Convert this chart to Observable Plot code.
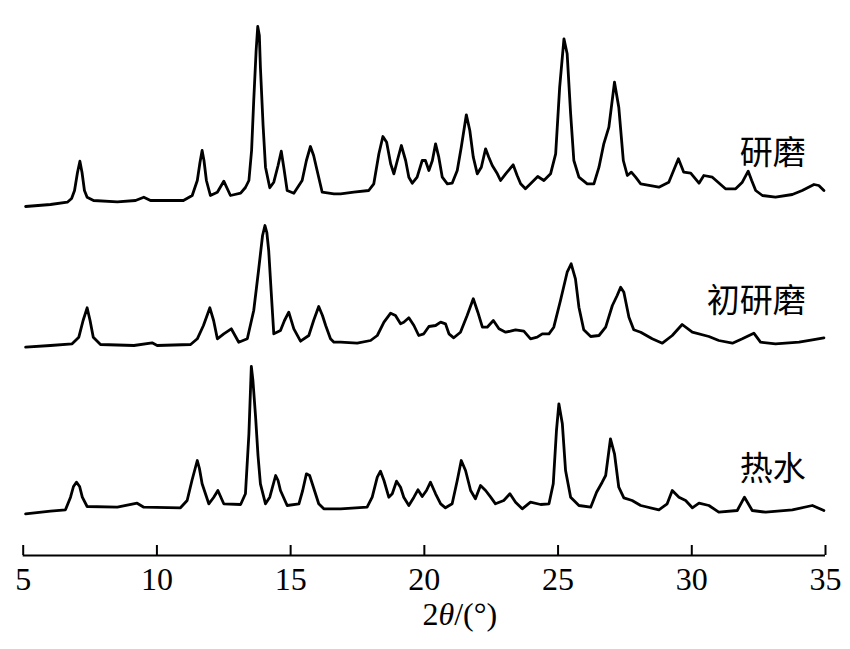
<!DOCTYPE html>
<html><head><meta charset="utf-8">
<script src="https://cdn.jsdelivr.net/npm/d3@7"></script>
<script src="https://cdn.jsdelivr.net/npm/@observablehq/plot@0.6"></script>
<style>body{margin:0;background:#fff;}</style>
</head><body><div id="chart"></div>
<script>
// Sample names (top to bottom)
const sampleNames = ["研磨", "初研磨", "热水"];
const xTicks = [5, 10, 15, 20, 25, 30, 35];
const xLabel = "2θ/(°)";

// Each trace: [2θ (°), displayed intensity (stacked, arbitrary units)]
// 研磨 (top trace)
const grind = [
[5.09,349],[6.02,351],[6.65,353.3],[6.81,357],[6.92,365],[7.03,383],[7.12,394.3],[7.20,383],[7.29,365],[7.39,358.3],[7.63,355],[8.52,353.7],[9.20,355],[9.51,358.3],[9.76,355],[10.99,355],[11.32,360],[11.51,375],[11.61,393],[11.69,405],[11.76,395],[11.85,375],[12.00,360],[12.26,363.3],[12.50,374.3],[12.75,360],[13.13,362.3],[13.31,368],[13.44,375],[13.54,405],[13.62,455],[13.71,505],[13.77,529],[13.83,520],[13.87,488.3],[13.97,430],[14.06,388.3],[14.22,367.7],[14.37,373.3],[14.53,390],[14.65,404.3],[14.75,387],[14.87,365],[15.12,362.3],[15.43,375],[15.59,395],[15.74,409],[15.86,400],[15.99,385],[16.18,363.3],[16.62,361.7],
[16.87,361.7],[17.36,363.3],[17.92,365],[18.11,371.7],[18.30,401.7],[18.45,419],[18.59,413.3],[18.74,391.7],[18.86,381.7],[18.99,395],[19.14,410],[19.30,395],[19.42,378.3],[19.55,372.3],[19.73,378.3],[19.92,395],[20.04,395],[20.17,385],[20.30,395],[20.42,411.7],[20.54,398.3],[20.67,378.3],[20.86,371.7],[21.04,372.3],[21.23,385],[21.38,408.3],[21.57,440.7],[21.70,425],[21.83,398.3],[21.98,381.7],[22.13,388.3],[22.29,406.7],[22.41,398.3],[22.54,390],[22.73,381.7],[22.85,375],[23.04,381.7],[23.32,390.7],[23.47,380],[23.60,371.7],[23.78,366.7],[23.97,371.7],[24.24,379],[24.47,375],[24.72,381.7],[24.91,401.7],[25.06,468.3],[25.22,516.7],[25.34,501.7],[25.47,441.7],[25.59,395],[25.78,378.3],[26.09,371.7],[26.34,371.7],[26.53,388.3],[26.71,411.7],[26.90,428.3],[27.11,473.3],[27.27,448.3],[27.44,395],[27.59,380],[27.74,383.3],[27.90,378.3],[28.09,371.7],
[28.77,368.3],[29.14,373.3],[29.32,385],[29.50,396.7],[29.70,383.3],[29.96,382.3],[30.27,372.3],[30.45,380],[30.77,378.3],[31.26,366.7],[31.64,366.7],[31.89,373.3],[32.11,384.3],[32.24,375],[32.39,365],[32.64,360],[33.13,358.3],[33.76,361],[34.13,365],[34.57,371],[34.75,370],[34.94,365]
];

// 初研磨 (middle trace)
const initialGrind = [
[5.09,208.3],[6.02,210],[6.83,211.7],[7.08,218.3],[7.24,235],[7.39,247.7],[7.50,235],[7.62,218.3],[7.89,211],[9.14,210],[9.82,212.7],[10.01,210],[11.26,211],[11.51,216.7],[11.74,230],[11.98,247.7],[12.12,235],[12.26,216.7],[12.50,221.7],[12.78,226.7],[13.06,213.3],[13.38,216.7],[13.62,245],[13.80,285],[13.95,320],[14.04,330],[14.11,323],[14.18,305],[14.27,265],[14.37,221.7],[14.62,225],[14.77,235],[14.93,243.3],[15.12,226.7],[15.37,214.3],[15.68,220],[15.86,235],[16.05,249],[16.19,240],[16.31,230],[16.49,216.7],[16.62,213.3],
[16.87,213.3],[17.49,212.3],[17.99,215],[18.24,220],[18.49,233.3],[18.74,242.3],[18.92,240],[19.11,231.7],[19.23,233.3],[19.42,237.7],[19.61,230],[19.79,220],[19.98,221.7],[20.17,229],[20.42,230],[20.61,233.3],[20.79,231.7],[20.92,221.7],[21.10,217.7],[21.35,223.3],[21.60,240],[21.83,256.7],[22.00,243.3],[22.17,228.3],[22.35,228.3],[22.58,235],[22.79,226.7],[23.04,223.3],[23.22,224.3],[23.41,225.7],[23.72,224.3],[23.97,216.7],[24.22,218.3],[24.41,221.7],[24.66,221.7],[24.84,228.3],[25.09,255],[25.34,283.3],[25.49,291.7],[25.65,276.7],[25.78,248.3],[25.96,225.7],[26.22,219],[26.53,220],[26.78,228.3],[27.03,250],[27.21,260],[27.34,268.3],[27.46,263.3],[27.65,238.3],[27.83,225.7],[28.09,223.3],
[28.52,216.7],[28.90,212.3],[29.27,220],[29.64,231],[30.02,223.3],[30.64,219],[31.01,215],[31.52,212.3],[31.89,216.7],[32.32,222.3],[32.57,213.3],[33.13,211.7],[34.01,213.3],[34.51,215.7],[34.94,217.7]
];

// 热水 (bottom trace)
const hotWater = [
[5.09,41.7],[6.02,44.3],[6.58,45.7],[6.77,58.3],[6.88,69],[6.99,73.3],[7.11,69],[7.21,58.3],[7.39,49],[8.52,48.3],[9.26,52.3],[9.51,48.3],[10.88,47.7],[11.13,55],[11.31,75],[11.51,95],[11.59,87],[11.69,71.7],[11.94,51.7],[12.12,58],[12.28,65],[12.50,51.7],[13.13,51],[13.31,61.7],[13.44,121.7],[13.53,189],[13.59,175],[13.69,138.3],[13.78,100],[13.87,71.7],[14.06,51.7],[14.22,58.3],[14.44,80],[14.53,75],[14.62,65],[14.87,50],[15.31,51.7],[15.45,65],[15.59,81.7],[15.71,80],[15.81,71.7],[16.05,51.7],[16.24,46.7],
[16.87,46.7],[17.86,48.3],[18.05,58.3],[18.24,78.3],[18.36,84.3],[18.49,75],[18.67,58.3],[18.80,61.7],[18.96,74.3],[19.11,68.3],[19.23,58.3],[19.42,50],[19.61,58.3],[19.76,65.7],[19.92,59],[20.08,65],[20.23,73.3],[20.42,61.7],[20.61,51.7],[20.79,47.7],[21.04,51.7],[21.23,75],[21.38,95],[21.54,85],[21.73,65],[21.91,56.7],[22.10,70],[22.29,65],[22.48,58.3],[22.66,51.7],[22.97,55],[23.20,61.7],[23.41,53.3],[23.66,46.7],[23.97,53.3],[24.35,51],[24.66,51.7],[24.82,71.7],[24.94,125],[25.03,151.7],[25.16,131.7],[25.28,85],[25.47,58.3],[25.78,50],[26.22,48.3],[26.44,63.3],[26.65,73.3],[26.78,80],[26.96,116.7],[27.11,101.7],[27.27,68.3],[27.46,57.7],[27.77,55],[28.09,50],
[28.77,45.7],[29.08,51.7],[29.27,65],[29.52,58.3],[29.77,55],[30.02,47.7],[30.27,52.3],[30.64,50],[31.01,43.3],[31.70,45],[31.97,58.3],[32.26,45],[32.76,43.3],[33.76,45.7],[34.51,50],[34.94,45]
];

// Where each sample name sits (2θ of its right end, intensity of its middle)
const nameTheta = [34.26, 34.26, 34.26];
const nameIntensity = [402.5, 254, 86.5];
const xLabelTheta = 19.93;

const traces = [grind, initialGrind, hotWater];
const rows = traces.flatMap((tr, k) => tr.map(([t, v]) => ({sample: sampleNames[k], theta: t, intensity: v})));
const names = sampleNames.map((n, i) => ({name: n, theta: nameTheta[i], intensity: nameIntensity[i]}));

const chart = Plot.plot({
  width: 850,
  height: 649,
  marginLeft: 22.7,
  marginRight: 25,
  marginTop: 0,
  marginBottom: 94,
  style: {fontFamily: "'Liberation Serif', 'Times New Roman', serif", background: "#fff", color: "#000"},
  x: {domain: [5, 35]},
  y: {domain: [0, 555], axis: null},
  marks: [
    Plot.lineY(rows, {x: "theta", y: "intensity", z: "sample", stroke: "#000", strokeWidth: 2.8, strokeLinejoin: "round", strokeLinecap: "round"}),
    Plot.ruleY([0], {stroke: "#000", strokeWidth: 2}),
    Plot.axisX({ticks: xTicks, tickSize: -10, tickPadding: 22, fontSize: 32, tickFormat: d => String(d), label: null, stroke: "#000", strokeWidth: 2}),
    Plot.text(names, {x: "theta", y: "intensity", text: "name", textAnchor: "end", fontSize: 33, fontFamily: "'Noto Sans CJK SC', sans-serif", fill: "#000"}),
    Plot.text([xLabel], {x: () => xLabelTheta, frameAnchor: "bottom", dy: 69, textAnchor: "start", fontSize: 32, fill: "#000"})
  ]
});
document.getElementById("chart").appendChild(chart);
// italic θ in the axis title
d3.select(chart).selectAll("text").filter(function(){ return this.textContent === xLabel; })
  .each(function(){
    const t = d3.select(this); t.text("");
    t.append("tspan").text("2");
    t.append("tspan").attr("font-style", "italic").text("θ");
    t.append("tspan").text("/(°)");
  });
</script>
</body></html>
